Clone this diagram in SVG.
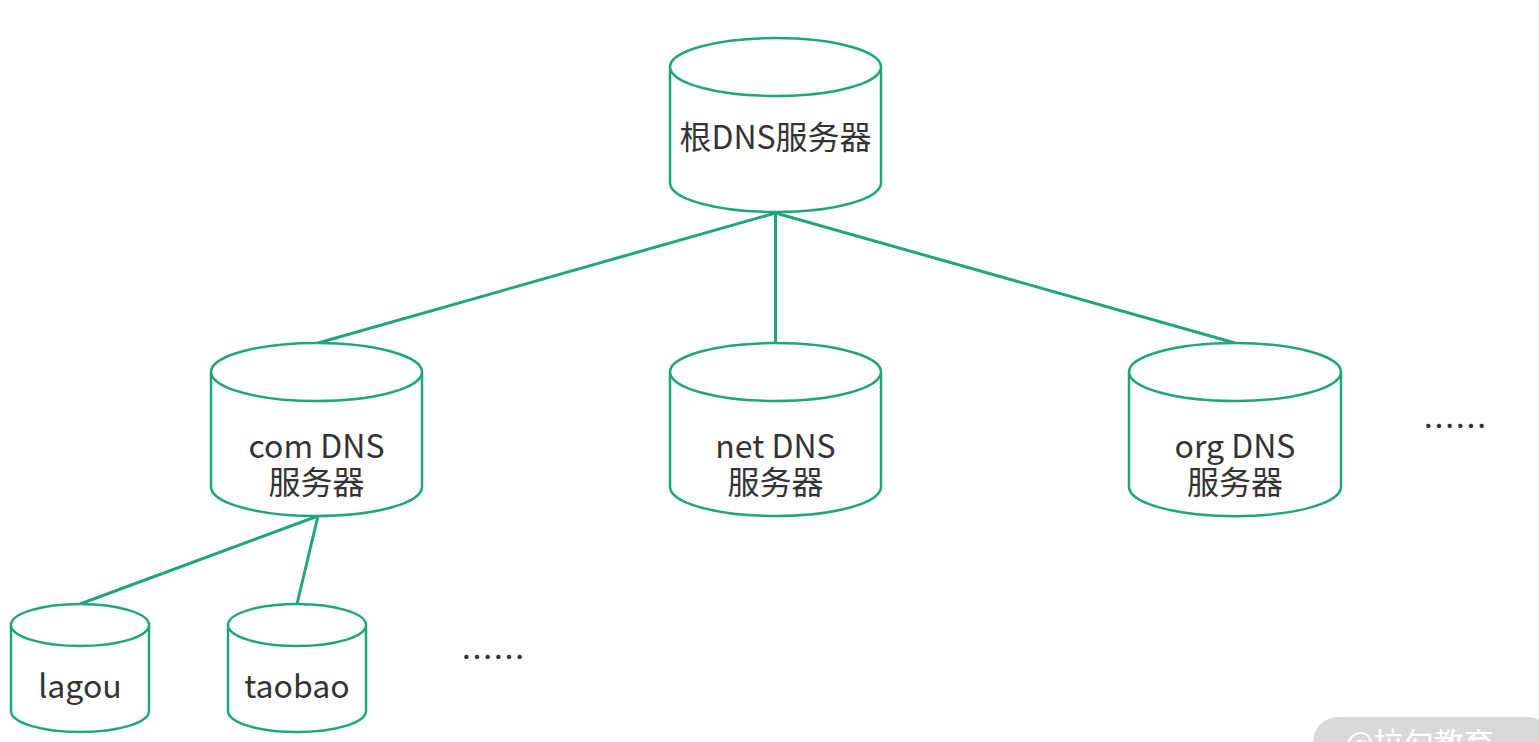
<svg xmlns="http://www.w3.org/2000/svg" width="1539" height="742" viewBox="0 0 1539 742">
<style>
.cyl{fill:#fff;stroke:#22a57b;stroke-width:2.5}
.edge{stroke:#22a57b;stroke-width:3;fill:none}
.t{font-family:"Noto Sans CJK SC","Noto Sans",sans-serif;font-size:32px;fill:#333;text-anchor:middle}
</style>
<rect width="1539" height="742" fill="#fff"/>
<g id="connectors">
<line class="edge" x1="775.5" y1="213" x2="318" y2="343"/>
<line class="edge" x1="775.5" y1="213" x2="775.5" y2="343"/>
<line class="edge" x1="775.5" y1="213" x2="1235" y2="343"/>
<line class="edge" x1="318" y1="516" x2="80" y2="604"/>
<line class="edge" x1="318" y1="516" x2="297" y2="604"/>
</g>
<g id="root">
<path class="cyl" d="M670,67 V183 A105.5,29 0 0 0 881,183 V67"/>
<ellipse class="cyl" cx="775.5" cy="67" rx="105.5" ry="29"/>
<text class="t" x="775.5" y="149">根DNS服务器</text>
</g>
<g id="com">
<path class="cyl" d="M211,372 V487 A105.5,29 0 0 0 422,487 V372"/>
<ellipse class="cyl" cx="316.5" cy="372" rx="105.5" ry="29"/>
<text class="t" x="316.5" y="458">com DNS</text>
<text class="t" x="316.5" y="494">服务器</text>
</g>
<g id="net">
<path class="cyl" d="M670,372 V487 A105.5,29 0 0 0 881,487 V372"/>
<ellipse class="cyl" cx="775.5" cy="372" rx="105.5" ry="29"/>
<text class="t" x="775.5" y="458">net DNS</text>
<text class="t" x="775.5" y="494">服务器</text>
</g>
<g id="org">
<path class="cyl" d="M1129,372 V487 A105.5,29 0 0 0 1341,487 V372"/>
<ellipse class="cyl" cx="1235" cy="372" rx="106" ry="29"/>
<text class="t" x="1235" y="458">org DNS</text>
<text class="t" x="1235" y="494">服务器</text>
</g>
<g id="lagou">
<path class="cyl" d="M11,625 V711 A69,21 0 0 0 149,711 V625"/>
<ellipse class="cyl" cx="80" cy="625" rx="69" ry="21"/>
<text class="t" x="80" y="698">lagou</text>
</g>
<g id="taobao">
<path class="cyl" d="M228,625 V711 A69,21 0 0 0 366,711 V625"/>
<ellipse class="cyl" cx="297" cy="625" rx="69" ry="21"/>
<text class="t" x="297" y="698">taobao</text>
</g>
<g id="more-top">
<text class="t" x="1455" y="438">……</text>
</g>
<g id="more-bottom">
<text class="t" x="493" y="669">……</text>
</g>
<g id="watermark">
<rect x="1313" y="717" width="240" height="50" rx="25" fill="#d9d9d9"/>
<text x="1345" y="754" font-family="Noto Sans CJK SC,sans-serif" font-size="30" fill="#fff">@拉勾教育</text>
</g>
</svg>
